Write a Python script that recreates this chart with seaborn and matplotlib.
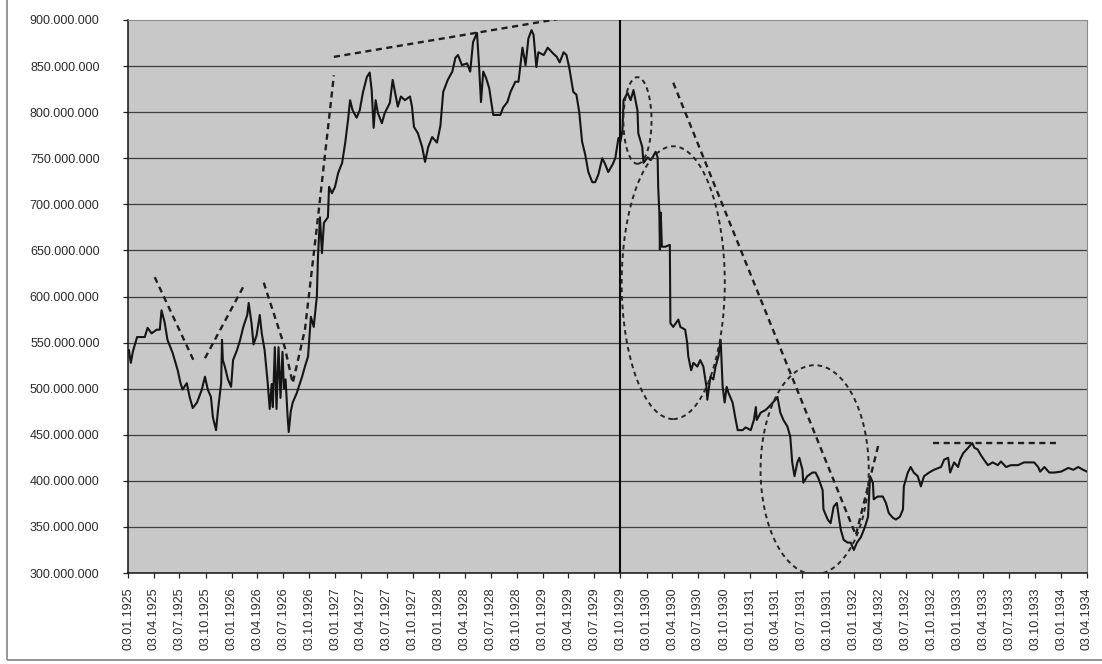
import pandas as pd
import matplotlib
matplotlib.use("Agg")
import matplotlib.pyplot as plt
import matplotlib.dates as mdates
from matplotlib.patches import Ellipse, Rectangle
from matplotlib.ticker import FuncFormatter, FixedLocator
import seaborn as sns

# ---- series: daily market value (in millions) ----
dates = [
    "1925-01-03", "1925-01-06", "1925-01-13", "1925-01-20", "1925-02-04", "1925-03-03", "1925-03-13",
    "1925-03-27", "1925-04-14", "1925-04-25", "1925-05-01", "1925-05-12", "1925-05-22", "1925-06-09",
    "1925-06-27", "1925-07-07", "1925-07-14", "1925-07-29", "1925-08-08", "1925-08-19", "1925-09-03",
    "1925-09-20", "1925-10-01", "1925-10-11", "1925-10-22", "1925-10-29", "1925-11-09", "1925-11-16",
    "1925-11-27", "1925-11-30", "1925-12-03", "1925-12-10", "1925-12-21", "1926-01-01", "1926-01-08",
    "1926-01-22", "1926-02-02", "1926-02-13", "1926-02-27", "1926-03-04", "1926-03-14", "1926-03-21",
    "1926-04-01", "1926-04-12", "1926-04-19", "1926-04-29", "1926-05-10", "1926-05-17", "1926-05-24",
    "1926-05-28", "1926-06-04", "1926-06-10", "1926-06-17", "1926-06-24", "1926-07-01", "1926-07-06",
    "1926-07-12", "1926-07-19", "1926-07-23", "1926-07-30", "1926-08-06", "1926-08-20", "1926-09-08",
    "1926-09-18", "1926-09-29", "1926-10-09", "1926-10-19", "1926-10-30", "1926-11-03", "1926-11-10",
    "1926-11-17", "1926-11-24", "1926-12-08", "1926-12-12", "1926-12-22", "1927-01-02", "1927-01-13",
    "1927-01-27", "1927-02-07", "1927-02-17", "1927-02-24", "1927-03-05", "1927-03-19", "1927-03-30",
    "1927-04-10", "1927-04-24", "1927-05-04", "1927-05-11", "1927-05-18", "1927-05-25", "1927-06-02",
    "1927-06-16", "1927-06-26", "1927-07-14", "1927-07-24", "1927-08-04", "1927-08-11", "1927-08-22",
    "1927-09-05", "1927-09-23", "1927-09-30", "1927-10-07", "1927-10-21", "1927-11-05", "1927-11-15",
    "1927-11-26", "1927-12-10", "1927-12-27", "1928-01-08", "1928-01-18", "1928-02-03", "1928-02-19",
    "1928-03-01", "1928-03-10", "1928-03-24", "1928-04-11", "1928-04-22", "1928-05-02", "1928-05-16",
    "1928-05-23", "1928-05-30", "1928-06-07", "1928-06-17", "1928-06-28", "1928-07-12", "1928-07-26",
    "1928-08-06", "1928-08-16", "1928-08-31", "1928-09-11", "1928-09-28", "1928-10-09", "1928-10-23",
    "1928-11-03", "1928-11-13", "1928-11-24", "1928-12-01", "1928-12-11", "1928-12-18", "1929-01-06",
    "1929-01-20", "1929-02-07", "1929-02-21", "1929-03-03", "1929-03-17", "1929-03-27", "1929-04-06",
    "1929-04-20", "1929-05-01", "1929-05-11", "1929-05-21", "1929-06-01", "1929-06-12", "1929-06-26",
    "1929-07-06", "1929-07-17", "1929-07-31", "1929-08-11", "1929-08-21", "1929-09-05", "1929-09-15",
    "1929-09-26", "1929-10-03", "1929-10-10", "1929-10-14", "1929-10-28", "1929-11-08", "1929-11-18",
    "1929-12-02", "1929-12-05", "1929-12-19", "1929-12-23", "1930-01-07", "1930-01-17", "1930-01-24",
    "1930-02-04", "1930-02-11", "1930-02-13", "1930-02-15", "1930-02-17", "1930-02-19", "1930-02-22",
    "1930-02-26", "1930-03-10", "1930-03-26", "1930-03-28", "1930-04-07", "1930-04-25", "1930-05-02",
    "1930-05-19", "1930-05-26", "1930-05-30", "1930-06-09", "1930-06-17", "1930-07-01", "1930-07-11",
    "1930-07-22", "1930-08-02", "1930-08-05", "1930-08-16", "1930-08-26", "1930-09-03", "1930-09-13",
    "1930-09-21", "1930-09-28", "1930-10-05", "1930-10-12", "1930-10-19", "1930-11-02", "1930-11-13",
    "1930-11-20", "1930-12-07", "1930-12-18", "1931-01-05", "1931-01-16", "1931-01-23", "1931-01-26",
    "1931-02-09", "1931-02-27", "1931-03-15", "1931-04-02", "1931-04-09", "1931-04-19", "1931-04-30",
    "1931-05-14", "1931-05-24", "1931-05-31", "1931-06-08", "1931-06-18", "1931-06-25", "1931-07-06",
    "1931-07-09", "1931-07-23", "1931-08-10", "1931-08-21", "1931-08-31", "1931-09-15", "1931-09-18",
    "1931-10-03", "1931-10-13", "1931-10-24", "1931-11-04", "1931-11-11", "1931-11-18", "1931-11-28",
    "1931-12-12", "1931-12-23", "1932-01-03", "1932-01-14", "1932-01-28", "1932-02-11", "1932-02-22",
    "1932-02-29", "1932-03-10", "1932-03-13", "1932-03-27", "1932-04-14", "1932-04-25", "1932-05-05",
    "1932-05-19", "1932-05-30", "1932-06-13", "1932-06-24", "1932-06-27", "1932-07-11", "1932-07-21",
    "1932-08-01", "1932-08-15", "1932-08-26", "1932-09-06", "1932-09-24", "1932-10-11", "1932-11-05",
    "1932-11-16", "1932-11-30", "1932-12-07", "1932-12-21", "1933-01-04", "1933-01-11", "1933-01-22",
    "1933-02-09", "1933-02-23", "1933-03-02", "1933-03-14", "1933-03-25", "1933-04-05", "1933-04-19",
    "1933-05-06", "1933-05-24", "1933-06-04", "1933-06-22", "1933-07-09", "1933-08-03", "1933-08-24",
    "1933-09-18", "1933-09-29", "1933-10-13", "1933-10-20", "1933-11-04", "1933-11-21", "1933-12-09",
    "1934-01-02", "1934-01-27", "1934-02-14", "1934-03-03", "1934-03-20", "1934-04-03",
]
values_mio = [
    540, 542, 528, 540, 556, 556, 566,
    560, 564, 564, 585, 572, 553, 539,
    520, 506, 499, 506, 491, 479, 485,
    499, 513, 499, 491, 469, 455, 477,
    506, 553, 531, 524, 510, 502, 531,
    542, 553, 567, 580, 593, 571, 548,
    558, 580, 560, 542, 506, 478, 505,
    480, 545, 478, 545, 490, 540, 500,
    510, 470, 453, 475, 485, 495, 513,
    524, 535, 578, 567, 600, 643, 686,
    647, 680, 686, 719, 712, 719, 734,
    745, 767, 792, 813, 802, 794, 802,
    821, 838, 843, 824, 783, 813, 799,
    788, 799, 810, 835, 817, 806, 817,
    813, 817, 806, 784, 777, 762, 746,
    762, 773, 767, 785, 822, 835, 844,
    859, 862, 851, 853, 844, 876, 886,
    851, 811, 844, 837, 826, 797, 797,
    797, 805, 811, 822, 833, 833, 870,
    851, 880, 889, 884, 849, 865, 862,
    870, 864, 860, 854, 865, 862, 848,
    822, 819, 800, 768, 754, 735, 724,
    724, 732, 750, 743, 735, 743, 750,
    772, 768, 780, 813, 821, 813, 824,
    802, 777, 762, 745, 751, 748, 751,
    757, 751, 719, 705, 691, 651, 691,
    654, 654, 656, 571, 567, 575, 567,
    564, 550, 535, 520, 528, 524, 531,
    524, 502, 488, 513, 510, 524, 535,
    553, 502, 485, 502, 495, 485, 466,
    455, 455, 458, 455, 466, 480, 466,
    474, 477, 482, 488, 491, 474, 466,
    459, 448, 420, 405, 420, 425, 412,
    398, 405, 409, 409, 403, 390, 369,
    358, 354, 372, 376, 361, 347, 336,
    333, 333, 325, 333, 339, 350, 361,
    405, 398, 380, 383, 383, 376, 365,
    360, 358, 361, 369, 394, 409, 415,
    409, 405, 394, 405, 409, 412, 415,
    423, 425, 409, 420, 415, 423, 430,
    436, 441, 436, 434, 428, 423, 417,
    420, 417, 421, 415, 417, 417, 420,
    420, 420, 415, 410, 415, 409, 409,
    410, 414, 412, 415, 412, 410,
]

# ---- annotation geometry (date, value in millions) ----
trend_a_dates = ["1925-04-07", "1925-08-26"]
trend_a_vals = [621, 528]
trend_b_dates = ["1925-10-01", "1926-02-12"]
trend_b_vals = [533, 610]
trend_v_dates = ["1926-04-26", "1926-07-09", "1926-08-06", "1926-09-18", "1926-11-03", "1926-12-29"]
trend_v_vals = [615, 545, 506, 564, 686, 840]
trend_top_dates = ["1926-12-29", "1929-02-24"]
trend_top_vals = [860, 901]
trend_fall_dates = ["1930-04-07", "1932-01-10", "1932-03-31"]
trend_fall_vals = [832, 341, 441]
level_dates = ["1932-10-06", "1933-12-15"]
level_vals = [441, 441]
crash_date = "1929-10-03"

# ellipses: centre date, centre value, width (days), height (millions)
ellipse_centres = ["1929-12-02", "1930-04-07", "1931-08-18"]
ellipse_vals = [791, 615, 412]
ellipse_widths = [99, 363, 381]
ellipse_heights = [94, 296, 227]

# quarterly axis labels
tick_dates = [pd.Timestamp(y, m, 3) for y in range(1925, 1935) for m in (1, 4, 7, 10)
              if pd.Timestamp(y, m, 3) <= pd.Timestamp(1934, 4, 3)]
tick_labels = [d.strftime("%d.%m.%Y") for d in tick_dates]

df = pd.DataFrame({"date": pd.to_datetime(dates), "value": [v * 1e6 for v in values_mio]})

sns.set_theme(style="white")
plt.rcParams["font.family"] = ["Liberation Sans", "DejaVu Sans"]

fig = plt.figure(figsize=(11.02, 6.64), dpi=100)
fig.patch.set_facecolor("white")
ax = fig.add_axes([128 / 1102, 1 - 573 / 664, 959 / 1102, 553 / 664])
ax.set_facecolor("#c8c8c8")

# horizontal grid
for g in range(350, 900, 50):
    ax.axhline(g * 1e6, color="#404040", lw=0.9, zorder=1)

sns.lineplot(data=df, x="date", y="value", ax=ax, color="#151515", linewidth=1.5,
             estimator=None, sort=False, zorder=4)

dash_kw = dict(color="#1e1e1e", lw=1.7, ls=(0, (2.6, 1.9)), zorder=5)
for dd, vv in [(trend_a_dates, trend_a_vals), (trend_b_dates, trend_b_vals),
               (trend_v_dates, trend_v_vals), (trend_top_dates, trend_top_vals),
               (trend_fall_dates, trend_fall_vals), (level_dates, level_vals)]:
    ax.plot(pd.to_datetime(dd), [v * 1e6 for v in vv], **dash_kw)

ax.axvline(pd.Timestamp(crash_date), color="#0a0a0a", lw=1.5, zorder=6)

for c, v, w, h in zip(ellipse_centres, ellipse_vals, ellipse_widths, ellipse_heights):
    e = Ellipse((mdates.date2num(pd.Timestamp(c)), v * 1e6), width=w, height=h * 1e6,
                fill=False, edgecolor="#262626", lw=1.4, ls=(0, (2.4, 2.0)), zorder=5)
    ax.add_patch(e)

ax.set_xlim(pd.Timestamp(1925, 1, 3), pd.Timestamp(1934, 4, 3))
ax.set_ylim(300e6, 900e6)
ax.set_yticks([v * 1e6 for v in range(300, 901, 50)])
ax.yaxis.set_major_formatter(FuncFormatter(lambda v, p: f"{int(round(v)):,}".replace(",", ".")))
ax.xaxis.set_major_locator(FixedLocator(mdates.date2num(tick_dates)))
ax.set_xticklabels(tick_labels, rotation=90)
ax.set_xlabel("")
ax.set_ylabel("")

ax.tick_params(axis="y", which="major", direction="out", length=3.5, width=0.9, color="#222",
               pad=17, labelsize=9, labelcolor="#2a2a2a", left=True)
ax.tick_params(axis="x", which="major", direction="out", length=3.5, width=0.9, color="#222",
               pad=7, labelsize=9, labelcolor="#2a2a2a", bottom=True)

for side in ("left", "bottom"):
    ax.spines[side].set_color("#111")
    ax.spines[side].set_linewidth(1.1)
for side in ("top", "right"):
    ax.spines[side].set_color("#8c8c8c")
    ax.spines[side].set_linewidth(0.8)

# outer chart frame
fig.patches.append(Rectangle((7 / 1102, 4 / 664), 1.2, 1.2, transform=fig.transFigure,
                             fill=False, edgecolor="#8e8e8e", lw=1.3, zorder=0))

fig.savefig("out.png", dpi=100, facecolor="white")
